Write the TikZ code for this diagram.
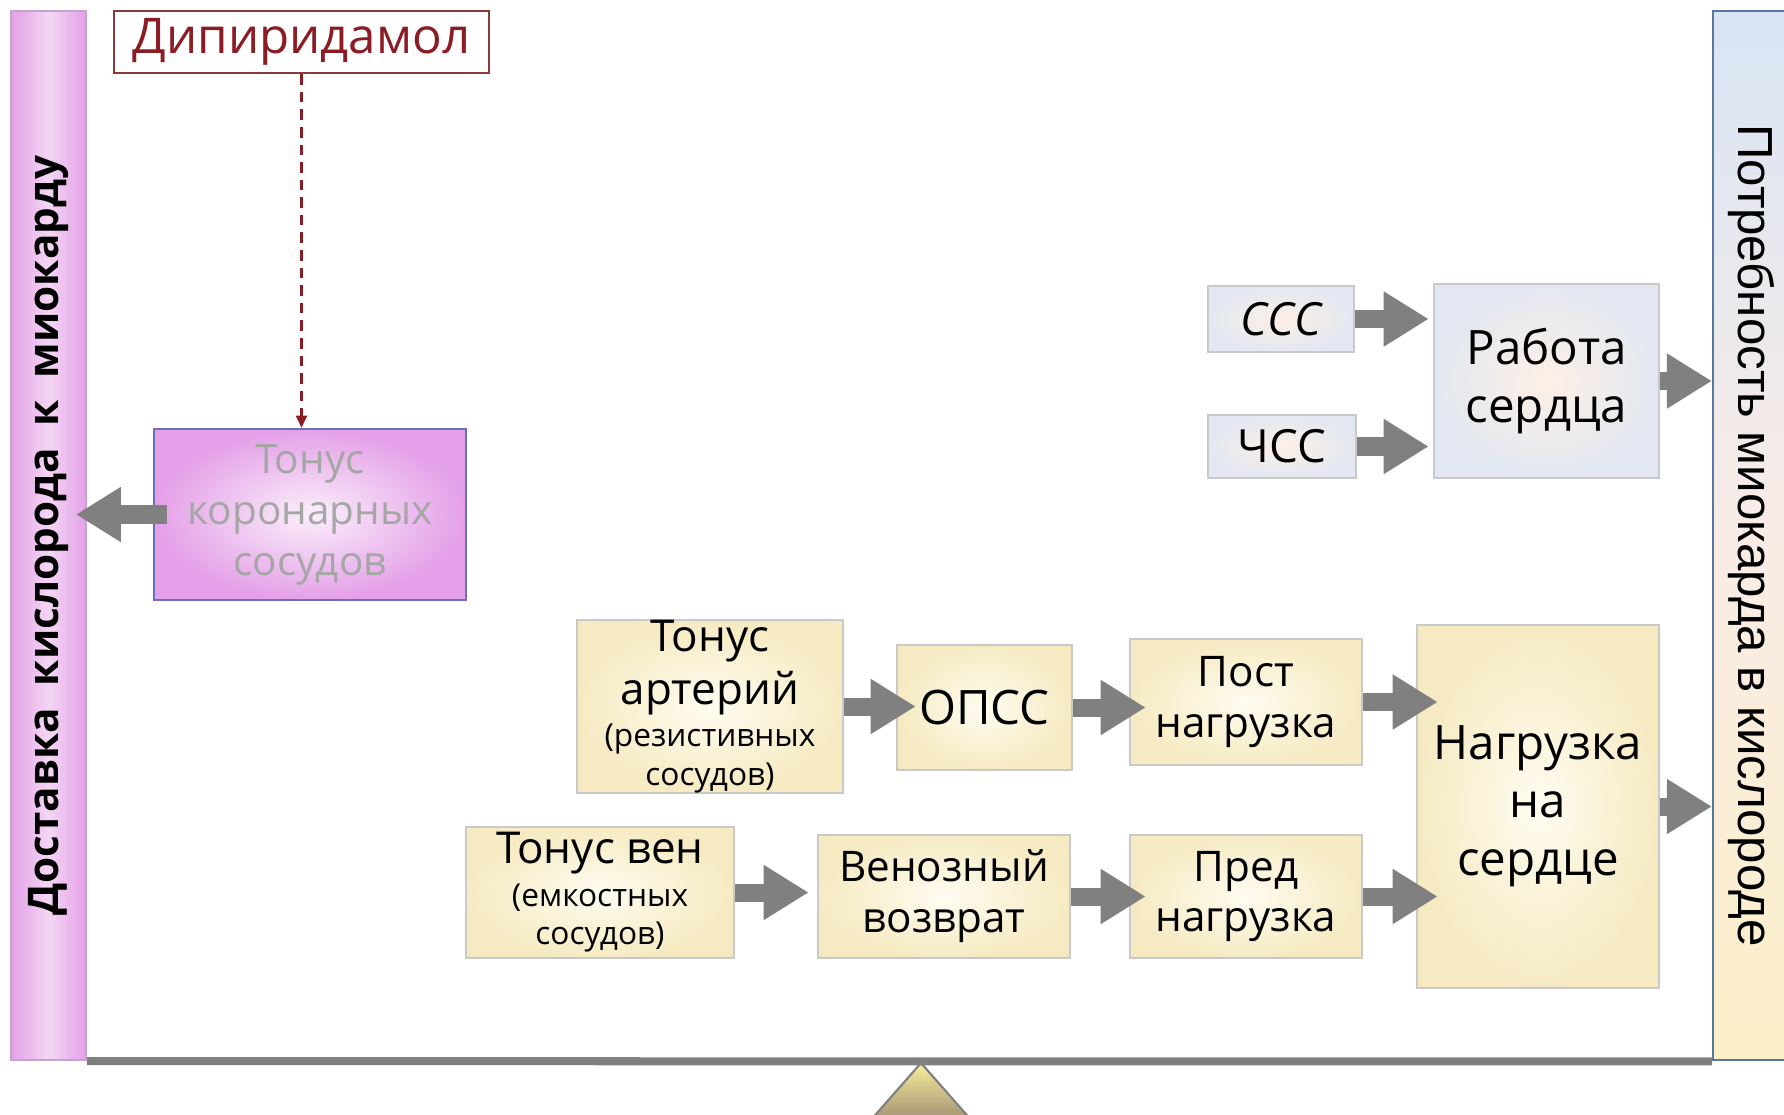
\documentclass[tikz,border=0pt]{standalone}
\usepackage{fontspec}
\setmainfont{Open Sans}
\newfontfamily\arialfont{Liberation Sans}
\usetikzlibrary{arrows.meta}

\definecolor{arrowgray}{HTML}{808080}
\definecolor{beamgray}{HTML}{7F7F7F}
\definecolor{orchid}{HTML}{E4A0E8}
\definecolor{orchidlight}{HTML}{F3D6F3}
\definecolor{barline}{HTML}{C4A2D2}
\definecolor{korline}{HTML}{6E6EBE}
\definecolor{kortext}{HTML}{A6A6A6}
\definecolor{dipired}{HTML}{8C1C24}
\definecolor{dipiline}{HTML}{8B3A3A}
\definecolor{creamin}{HTML}{FFFCF0}
\definecolor{creamout}{HTML}{F5EAC2}
\definecolor{peachin}{HTML}{FDF0E6}
\definecolor{blueout}{HTML}{E2E7F1}
\definecolor{boxline}{HTML}{C9C9C9}
\definecolor{bartop}{HTML}{D8E4F4}
\definecolor{barmid}{HTML}{F9ECE6}
\definecolor{barbottom}{HTML}{FBF0C8}
\definecolor{rightline}{HTML}{5878A0}

\tikzset{
  txt/.style={font=\fontsize{12}{14.5}\selectfont},
  box/.style={draw=boxline, line width=0.7pt, inner sep=0pt, align=center,
    inner color=creamin, outer color=creamout, txt},
  bluebox/.style={box, inner color=peachin, outer color=blueout},
  leftbar/.style={draw=barline, line width=0.5pt, inner sep=0pt,
    minimum width=0.75cm, minimum height=10.49cm,
    left color=orchid, right color=orchid, middle color=orchidlight},
  rightbar/.style={draw=rightline, line width=0.6pt, inner sep=0pt,
    minimum width=0.77cm, minimum height=10.49cm,
    top color=bartop, bottom color=barbottom, middle color=barmid},
  korbox/.style={draw=korline, line width=0.7pt, inner sep=0pt, align=center,
    inner color=orchidlight!40!white, outer color=orchid, text=kortext,
    font=\fontsize{11.5}{14.5}\selectfont},
  dipibox/.style={draw=dipiline, line width=0.7pt, fill=white, inner sep=0pt,
    text=dipired, font=\fontsize{14}{17}\selectfont},
  bigarrow/.style={draw=arrowgray, line width=0.18cm,
    -{Triangle[length=0.45cm,width=0.52cm]}},
}

\begin{document}
\begin{tikzpicture}[x=0.01cm, y=-0.01cm]
  %%%%% START %%%%%
  \useasboundingbox (0,0) rectangle (1784,1115);

  % side bars
  \node[leftbar] (dostavka) at (48.5,535.5) {};
  \node[rotate=90, font=\fontsize{12}{15}\selectfont\bfseries] (dostavkatxt) at (dostavka.center)
    {Доставка\ \ кислорода\ \ к\ \ миокарду};
  \node[rightbar] (potreb) at (1751.5,535.5) {};
  \node[rotate=-90, font=\arialfont\fontsize{14}{17}\selectfont] (potrebtxt) at (potreb.center)
    {Потребность миокарда в кислороде};

  % beam and support
  \coordinate (pivot) at (921,1063);
  \draw[draw=gray, line width=0.6pt, top color=creamout!80!yellow, bottom color=arrowgray!70!brown]
    (pivot) -- ++(-59,67) -- ++(118,0) -- cycle;
  \draw[line width=0.08cm, color=beamgray] (dostavka.south east) -- (potreb.south west);

  % oxygen supply
  \node[dipibox, minimum width=3.75cm, minimum height=0.62cm] (dipi) at (301.5,42) {Дипиридамол};
  \node[korbox, minimum width=3.12cm, minimum height=1.71cm] (kor) at (310,514.5)
    {Тонус\\коронарных\\сосудов};

  % heart work
  \node[bluebox, minimum width=1.46cm, minimum height=0.66cm, font=\fontsize{13}{16}\selectfont]
    (sss) at (1281,319) {\itshape ССС};
  \node[bluebox, minimum width=1.48cm, minimum height=0.63cm, font=\fontsize{13}{16}\selectfont]
    (chss) at (1282,446.5) {ЧСС};
  \node[bluebox, minimum width=2.25cm, minimum height=1.94cm, font=\fontsize{13.5}{16.5}\selectfont]
    (rabota) at (1546.5,381) {Работа\\сердца};

  % heart load
  \node[box, minimum width=2.66cm, minimum height=1.71cm, font=\fontsize{12.5}{15}\selectfont] (arter) at (710,706.5)
    {Тонус\\артерий\\[-3pt]{\fontsize{9}{11}\selectfont(резистивных}\\[-4pt]{\fontsize{9}{11}\selectfont сосудов)}};
  \node[box, minimum width=1.75cm, minimum height=1.25cm, font=\fontsize{13.5}{16}\selectfont]
    (opss) at (984.5,707.5) {ОПСС};
  \node[box, minimum width=2.32cm, minimum height=1.26cm] (post) at (1246,702) {Пост\\нагрузка};
  \node[box, minimum width=2.42cm, minimum height=3.63cm, font=\fontsize{13.5}{16.5}\selectfont]
    (nagr) at (1538,806.5) {Нагрузка\\на\\сердце};
  \node[box, minimum width=2.68cm, minimum height=1.31cm, font=\fontsize{12.5}{15}\selectfont] (ven) at (600,892.5)
    {Тонус вен\\[-3pt]{\fontsize{9}{11}\selectfont(емкостных}\\[-4pt]{\fontsize{9}{11}\selectfont сосудов)}};
  \node[box, minimum width=2.52cm, minimum height=1.23cm] (vozvr) at (944,896.5) {Венозный\\возврат};
  \node[box, minimum width=2.32cm, minimum height=1.23cm] (pred) at (1246,896.5) {Пред\\нагрузка};

  % connectors
  \draw[dipired, line width=0.6pt, densely dashed, -{Triangle[length=0.12cm,width=0.11cm]}]
    (dipi.south) -- (dipi.south |- kor.north);
  \draw[bigarrow, shorten <=-0.14cm, shorten >=-0.11cm] (kor.west) -- (kor.west -| dostavka.east);

  \draw[bigarrow, shorten >=0.04cm] (sss.east) -- (sss.east -| rabota.west);
  \draw[bigarrow, shorten >=0.04cm] (chss.east) -- (chss.east -| rabota.west);
  \draw[bigarrow] (rabota.east) -- (rabota.east -| potreb.west);

  \draw[bigarrow, shorten >=-0.2cm] (arter.east) -- (arter.east -| opss.west);
  \draw[bigarrow, shorten >=-0.17cm] (opss.east) -- (opss.east -| post.west);
  \draw[bigarrow, shorten >=-0.22cm] (post.east) -- (post.east -| nagr.west);
  \draw[bigarrow, shorten >=0.08cm] (ven.east) -- (ven.east -| vozvr.west);
  \draw[bigarrow, shorten >=-0.17cm] (vozvr.east) -- (vozvr.east -| pred.west);
  \draw[bigarrow, shorten >=-0.22cm] (pred.east) -- (pred.east -| nagr.west);
  \draw[bigarrow] (nagr.east) -- (nagr.east -| potreb.west);
  %%%%% END %%%%%
\end{tikzpicture}
\end{document}
